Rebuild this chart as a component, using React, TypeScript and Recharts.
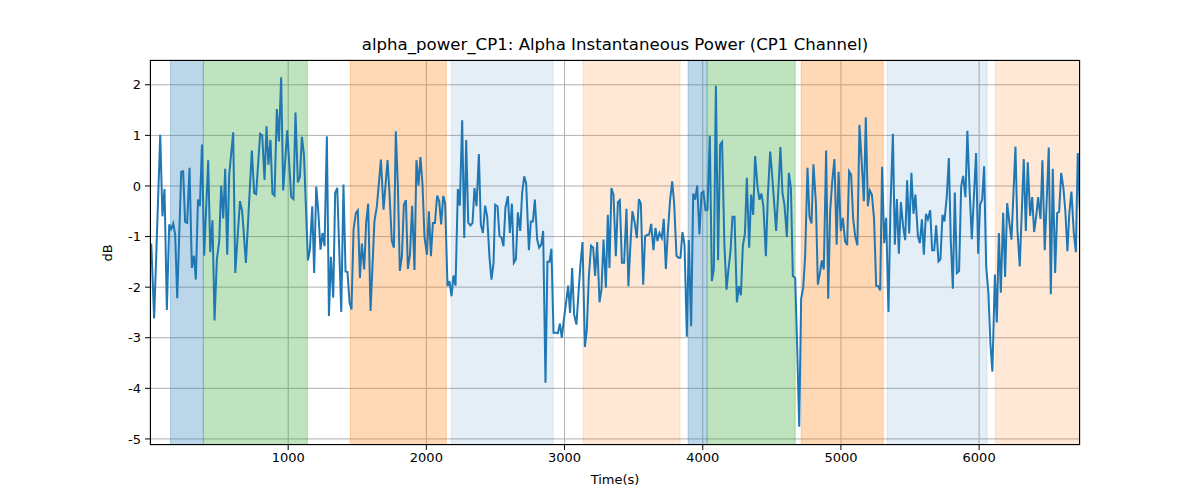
import React from "react";
import { CartesianGrid, Line, LineChart, ReferenceArea, XAxis, YAxis } from "recharts";

const times = [
  9, 30, 74, 90, 105, 122, 139, 153, 168, 182, 197, 226, 240, 254, 269, 286, 303, 318, 332, 347,
  361, 376, 392, 421, 436, 452, 467, 484, 501, 515, 530, 544, 559, 573, 602, 617, 651, 667, 694, 737,
  754, 768, 797, 812, 829, 843, 857, 872, 886, 901, 918, 933, 949, 964, 993, 1022, 1038, 1053, 1070, 1085,
  1099, 1114, 1143, 1157, 1174, 1188, 1203, 1217, 1234, 1248, 1263, 1280, 1295, 1309, 1326, 1340, 1355, 1384, 1400, 1415,
  1429, 1444, 1458, 1473, 1490, 1504, 1519, 1533, 1550, 1564, 1579, 1596, 1624, 1642, 1671, 1690, 1719, 1733, 1750, 1765,
  1779, 1794, 1808, 1823, 1837, 1852, 1866, 1881, 1897, 1914, 1928, 1943, 1957, 1972, 1986, 2004, 2018, 2033, 2047, 2062,
  2078, 2093, 2107, 2122, 2136, 2153, 2167, 2182, 2196, 2211, 2228, 2242, 2259, 2274, 2288, 2303, 2319, 2334, 2348, 2363,
  2380, 2394, 2409, 2425, 2440, 2457, 2471, 2486, 2498, 2515, 2529, 2543, 2558, 2572, 2590, 2604, 2619, 2633, 2648, 2662,
  2679, 2693, 2708, 2722, 2742, 2756, 2771, 2785, 2802, 2816, 2831, 2845, 2862, 2876, 2891, 2905, 2920, 2934, 2952, 2966,
  2980, 2995, 3012, 3026, 3040, 3055, 3069, 3086, 3101, 3115, 3130, 3147, 3161, 3176, 3192, 3207, 3221, 3236, 3253, 3267,
  3282, 3299, 3313, 3325, 3339, 3354, 3371, 3386, 3400, 3415, 3431, 3448, 3462, 3477, 3491, 3508, 3523, 3538, 3552, 3569,
  3583, 3598, 3612, 3627, 3643, 3658, 3672, 3687, 3704, 3718, 3733, 3747, 3764, 3779, 3793, 3810, 3824, 3839, 3853, 3868,
  3885, 3899, 3916, 3931, 3945, 3960, 3976, 3991, 4005, 4020, 4034, 4051, 4066, 4080, 4095, 4111, 4126, 4140, 4157, 4172,
  4186, 4201, 4215, 4230, 4247, 4261, 4276, 4290, 4305, 4319, 4336, 4350, 4365, 4379, 4396, 4410, 4425, 4439, 4457, 4471,
  4488, 4502, 4517, 4531, 4548, 4562, 4577, 4591, 4609, 4623, 4638, 4652, 4669, 4683, 4698, 4712, 4727, 4741, 4758, 4772,
  4787, 4801, 4819, 4833, 4848, 4862, 4876, 4893, 4908, 4922, 4937, 4953, 4969, 4983, 4999, 5014, 5030, 5045, 5059, 5074,
  5088, 5103, 5119, 5134, 5151, 5166, 5180, 5195, 5209, 5224, 5240, 5255, 5269, 5284, 5298, 5313, 5327, 5344, 5358, 5376,
  5390, 5405, 5419, 5434, 5450, 5465, 5479, 5494, 5510, 5525, 5539, 5557, 5571, 5586, 5600, 5615, 5629, 5646, 5660, 5675,
  5689, 5706, 5720, 5735, 5749, 5766, 5781, 5795, 5810, 5824, 5839, 5855, 5870, 5884, 5901, 5915, 5930, 5947, 5978, 5993,
  6007, 6022, 6036, 6051, 6067, 6082, 6096, 6114, 6128, 6143, 6157, 6174, 6188, 6203, 6219, 6234, 6263, 6277, 6294, 6323,
  6338, 6352, 6369, 6384, 6398, 6413, 6427, 6444, 6458, 6475, 6504, 6519, 6533, 6550, 6565, 6579, 6594, 6610, 6624, 6639,
  6653, 6668, 6685, 6700, 6714, 6729
];

const power = [
  -1.14, -2.62, 1.01, -0.6, -0.06, -2.45, -0.76, -0.85, -0.74, -0.96, -2.22, 0.28, 0.29, -0.71, -0.73, 0.36, -1.62, -1.38, -1.85, -0.27,
  -0.4, 0.82, -1.38, 0.51, -1.31, -0.68, -2.66, -1.45, -1.09, 0.01, -0.64, 0.34, -1.36, 0.22, 1.06, -1.72, -0.3, -0.5, -1.52, 0.7,
  -0.14, -0.16, 1.03, 1.0, 0.12, 1.18, 0.42, 0.91, -0.15, -0.19, 1.52, 0.88, 2.15, -0.09, 1.1, -0.22, -0.26, 1.45, 0.07, 0.18,
  0.97, 0.62, -1.47, -1.26, -0.4, -1.72, -0.01, -0.47, -1.26, -0.93, -1.19, 0.98, -2.57, -1.4, -2.21, -0.14, -0.04, -2.49, 0.03, -1.69,
  -1.7, -2.3, -2.44, -0.86, -0.53, -0.48, -1.82, -1.14, -1.65, -0.73, -0.35, -2.47, -0.7, -0.4, 0.52, -0.47, 0.51, -0.14, -1.09, -1.22,
  1.08, -0.01, -1.68, -1.39, -0.37, -0.28, -1.64, -1.36, -0.39, -1.66, 0.51, 0.01, 0.57, 0.03, -0.99, -1.36, -0.5, -1.39, -0.73, -0.73,
  -0.19, -0.3, -0.76, -0.2, -0.35, -1.98, -1.88, -2.18, -1.77, -1.97, -0.06, -0.39, 1.3, -1.03, 0.91, -0.73, -0.78, -0.73, -0.04, -0.4,
  0.63, -0.76, -0.93, -0.39, -0.6, -1.42, -1.85, -1.52, -0.37, -0.4, -0.99, -1.01, -1.19, -0.43, -0.2, -0.93, -0.35, -1.52, -1.45, -0.52,
  -0.89, -0.14, 0.19, 0.05, -1.27, -0.7, -0.7, -0.27, -1.06, -1.22, -1.16, -0.89, -3.89, -1.5, -1.5, -1.24, -2.9, -2.9, -2.91, -2.72,
  -3.0, -2.64, -2.28, -1.97, -2.51, -1.62, -2.54, -2.74, -2.11, -1.55, -1.11, -3.18, -2.84, -1.78, -1.18, -1.22, -1.78, -1.11, -2.3, -2.05,
  -1.06, -2.01, -0.57, -1.62, -0.04, -0.17, -1.39, -0.32, -0.28, -1.52, -1.52, -0.45, -1.98, -1.14, -0.5, -0.73, -1.03, -0.26, -0.35, -1.95,
  -0.99, -0.97, -0.96, -0.75, -1.27, -0.83, -1.09, -0.93, -1.03, -0.65, -1.64, -0.93, -0.27, 0.09, -0.34, -1.38, -1.42, -1.42, -0.91, -1.16,
  -2.98, -1.07, -2.77, -0.15, -0.27, 0.01, -0.96, -0.14, -0.11, -0.48, -0.47, 0.99, -1.88, -1.65, 1.98, -1.47, 0.82, 0.87, -1.19, -2.05,
  -1.65, -1.29, -0.61, -0.61, -2.3, -1.98, -2.16, -1.19, -0.94, 0.16, -1.22, -0.17, -0.57, 0.59, -0.01, -0.27, -0.15, -0.41, -1.39, -0.2,
  0.68, 0.22, -0.34, -0.89, -0.04, 0.77, -0.14, -0.37, -1.01, 0.26, -0.04, -1.78, -1.82, -3.16, -4.76, -2.23, -2.01, -1.39, 0.36, -0.6,
  -0.74, 0.43, -0.34, -1.95, -1.72, -1.47, -1.65, 0.7, -2.23, -0.5, 0.09, 0.53, -1.16, 0.28, -0.89, -0.63, -1.09, -1.17, 0.29, 0.22,
  -0.63, -0.99, -1.17, 1.21, 0.44, -0.3, 1.36, -0.4, -0.09, -0.17, -0.66, -1.97, -1.98, -2.06, 0.38, -1.13, -0.63, -2.49, -0.47, 1.03,
  -1.16, -0.26, -1.34, -0.32, -0.8, -1.07, 0.11, -0.94, 0.26, -0.55, -0.17, -0.99, -1.13, -0.66, -1.36, -0.55, -0.66, -0.48, -1.27, -1.27,
  -0.78, -1.49, -1.45, -0.57, -0.7, -0.2, 0.55, -1.09, -2.03, -0.13, -1.72, -1.68, -0.01, 0.2, -0.22, 1.09, -0.01, -1.05, 0.65, -1.34,
  -0.37, -0.27, 0.39, -1.59, -2.11, -3.13, -3.67, -1.75, -2.7, -0.93, -2.11, -0.53, -1.8, -0.34, -0.73, -1.06, 0.78, -0.86, -1.59, 0.53,
  -0.89, 0.47, -0.59, -0.22, -0.91, -0.6, -0.22, -0.65, 0.51, -1.27, 0.76, -2.14, 0.34, -1.72, -0.53, -0.51, 0.26, -0.04, -0.5, -1.29,
  -0.52, -0.11, -0.93, -1.31, 0.65, -0.47
];

const spanStarts = [148, 386, 1449, 2180, 3134, 3894, 4031, 4712, 5335, 6116];
const spanEnds = [386, 1139, 2144, 2918, 3836, 4031, 4669, 5306, 6058, 6730];
const spanColors = ["#1f77b4", "#2ca02c", "#ff7f0e", "#1f77b4", "#ff7f0e", "#1f77b4", "#2ca02c", "#ff7f0e", "#1f77b4", "#ff7f0e"];
const spanOpacity = [0.3, 0.3, 0.3, 0.12, 0.17, 0.3, 0.3, 0.3, 0.12, 0.17];

const xTicks = [1000, 2000, 3000, 4000, 5000, 6000];
const yTicks = [-5, -4, -3, -2, -1, 0, 1, 2];

const data = times.map((t, i) => ({ t, v: power[i] }));

const font = "'DejaVu Sans', sans-serif";

export default function App() {
  return (
    <div style={{ position: "absolute", left: 0, top: 0, width: 1200, height: 500, background: "#fff", fontFamily: font }}>
      <div style={{ position: "absolute", left: 150, width: 930, top: 35, textAlign: "center", fontSize: 16.6, color: "#000" }}>
        alpha_power_CP1: Alpha Instantaneous Power (CP1 Channel)
      </div>
      <LineChart width={1200} height={500} data={data} margin={{ top: 60, right: 120, bottom: 10, left: 100 }}>
        <CartesianGrid stroke="#b0b0b0" strokeWidth={1} />
        {spanStarts.map((s, i) => (
          <ReferenceArea
            key={i}
            x1={s}
            x2={spanEnds[i]}
            fill={spanColors[i]}
            fillOpacity={spanOpacity[i]}
            stroke={spanColors[i]}
            strokeOpacity={spanOpacity[i]}
            ifOverflow="hidden"
          />
        ))}
        <XAxis
          dataKey="t"
          type="number"
          domain={[0, 6730]}
          ticks={xTicks}
          allowDataOverflow
          height={45}
          axisLine={false}
          tickSize={5}
          tickMargin={3}
          tickLine={{ stroke: "#000" }}
          tick={{ fill: "#000", fontSize: 13, fontFamily: font }}
        />
        <YAxis
          type="number"
          domain={[-5.12, 2.49]}
          ticks={yTicks}
          allowDataOverflow
          width={50}
          axisLine={false}
          tickSize={5}
          tickMargin={4}
          tickLine={{ stroke: "#000" }}
          tick={{ fill: "#000", fontSize: 13, fontFamily: font }}
        />
        <Line type="linear" dataKey="v" stroke="#1f77b4" strokeWidth={2} dot={false} isAnimationActive={false} />
      </LineChart>
      <div style={{ position: "absolute", left: 150, top: 60, width: 930, height: 385, border: "1px solid #000", boxSizing: "border-box", pointerEvents: "none" }} />
      <div style={{ position: "absolute", left: 150, width: 930, top: 472, textAlign: "center", fontSize: 13, color: "#000" }}>
        Time(s)
      </div>
      <div style={{ position: "absolute", left: 107, top: 253, fontSize: 13, color: "#000", transform: "translate(-50%, -50%) rotate(-90deg)" }}>
        dB
      </div>
    </div>
  );
}
